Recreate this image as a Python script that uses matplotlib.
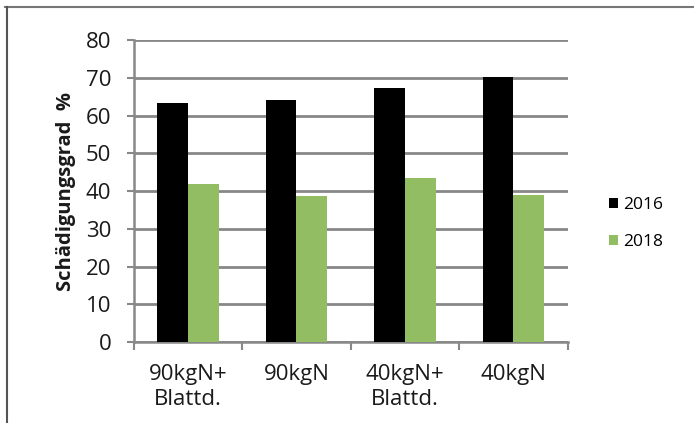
import numpy as np
import matplotlib.pyplot as plt
from matplotlib.lines import Line2D

categories = ['90kgN+\nBlattd.', '90kgN', '40kgN+\nBlattd.', '40kgN']
vals_2016 = [63.4, 64.1, 67.3, 70.2]
vals_2018 = [41.8, 38.6, 43.4, 38.9]
yticks = [0, 10, 20, 30, 40, 50, 60, 70, 80]

plt.rcParams['font.family'] = ['Open Sans', 'DejaVu Sans']

fig = plt.figure(figsize=(6.94, 4.23), dpi=100)
ax = fig.add_axes([0.1924, 0.1915, 0.6257, 0.7139])

x = np.arange(len(categories))
w = 0.284
ax.bar(x - w / 2, vals_2016, w, color='black', label='2016', zorder=3)
ax.bar(x + w / 2, vals_2018, w, color='#93bd62', label='2018', zorder=3)

ax.set_xlim(-0.5, 3.5)
ax.set_ylim(0, 80)
ax.set_yticks(yticks)
ax.tick_params(axis='y', labelsize=16, length=5, width=1.5, color='#888888',
               pad=11, labelcolor='#1a1a1a')
ax.yaxis.grid(True, color='#888888', linewidth=2, zorder=0)

# category labels in between boundary ticks
ax.set_xticks(x)
ax.set_xticklabels(categories, fontsize=16, linespacing=1.22, color='#1a1a1a')
ax.tick_params(axis='x', which='major', length=0, pad=16)
ax.set_xticks(np.arange(-0.5, 4, 1), minor=True)
ax.tick_params(axis='x', which='minor', length=6, width=1.5, color='#888888')

for side in ('top', 'right'):
    ax.spines[side].set_visible(False)
for side in ('left', 'bottom'):
    ax.spines[side].set_color('#888888')
    ax.spines[side].set_linewidth(1.8)

ax.set_ylabel('Schädigungsgrad  %', fontsize=14.5, fontweight='bold',
              labelpad=7, color='#1a1a1a')

ax.legend(loc='center left', bbox_to_anchor=(1.058, 0.392), frameon=False,
          fontsize=12.5, handlelength=0.52, handleheight=0.52, handletextpad=0.3,
          labelspacing=1.2)

# outer frame lines (top and left)
fig.add_artist(Line2D([5 / 694, 1], [1 - 7 / 423, 1 - 7 / 423],
                      transform=fig.transFigure, color='#777777', linewidth=1.5))
fig.add_artist(Line2D([7 / 694, 7 / 694], [0, 1 - 7 / 423],
                      transform=fig.transFigure, color='#555555', linewidth=1.5))

fig.savefig('out.png', dpi=100)
